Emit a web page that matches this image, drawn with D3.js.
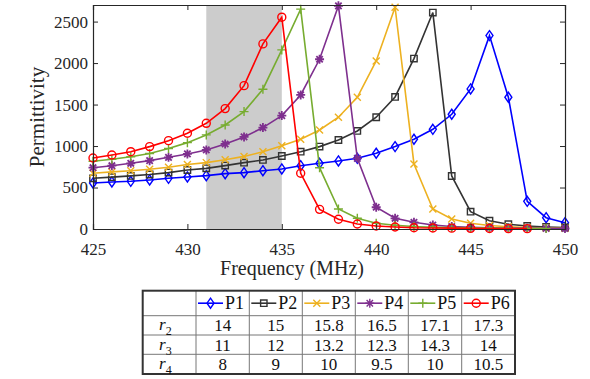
<!DOCTYPE html>
<html><head><meta charset="utf-8">
<script src="https://cdn.jsdelivr.net/npm/d3@7/dist/d3.min.js"></script>
<style>body{margin:0;background:#fff}svg{display:block}text{font-family:"Liberation Serif","Times New Roman",serif}</style>
</head><body>
<svg id="c" width="590" height="379"></svg>
<script>
const freq = d3.range(425, 451);
const seriesNames = ["P1","P2","P3","P4","P5","P6"];
const P1 = [555,567,575,591,611,627,643,667,679,703,724,763,792,820,852,913,993,1082,1202,1383,1688,2331,1588,334,136,76];
const P2 = [611,625,640,657,680,711,731,764,800,832,880,932,993,1073,1182,1347,1592,2054,2609,639,209,100,57,36,25,18];
const P3 = [672,688,703,720,745,778,800,835,875,930,1003,1082,1194,1347,1588,2026,2673,784,241,121,69,42,28,18,12,8];
const P4 = [739,763,792,824,864,905,953,1025,1110,1222,1367,1616,2046,2690,852,262,129,81,48,30,20,15,12,10,8,6];
const P5 = [816,840,870,910,970,1041,1134,1254,1415,1685,2159,2650,739,241,129,69,45,30,22,17,13,10,8,6,5];
const P6 = [856,892,932,993,1065,1154,1274,1451,1728,2231,2553,672,237,117,60,36,24,15,12,10,8,6,5,4];
const seriesValues = [P1,P2,P3,P4,P5,P6];
const shadeBand = [431, 435];
const xTicks = [425,430,435,440,445,450];
const yTicks = [0,500,1000,1500,2000,2500];
const rowLabels = ["2","3","4"];
const r2 = ["14","15","15.8","16.5","17.1","17.3"];
const r3 = ["11","12","13.2","12.3","14.3","14"];
const r4 = ["8","9","10","9.5","10","10.5"];
const tableRows = [r2,r3,r4];

const colors = ["#0000ff","#333333","#EDB120","#7E2F8E","#77AC30","#ff0000"];
const markerKinds = ["diamond","square","times","asterisk","plus","circle"];
function markerPath(k){
  switch(k){
    case "diamond": return "M0,-5L3.5,0L0,5L-3.5,0Z";
    case "square": return "M-3.2,-3.2H3.2V3.2H-3.2Z";
    case "times": return "M-3.5,-3.5L3.5,3.5M-3.5,3.5L3.5,-3.5";
    case "plus": return "M-4.5,0H4.5M0,-4.5V4.5";
    case "asterisk": return "M-4.5,0H4.5M0,-4.5V4.5M-3.2,-3.2L3.2,3.2M-3.2,3.2L3.2,-3.2";
    case "circle": return "M4,0A4,4 0 1,1 -4,0A4,4 0 1,1 4,0Z";
  }
}
const svg = d3.select("#c");
const L=93, R=565, T=5, B=229;
const x = d3.scaleLinear().domain([425,450]).range([L,R]);
const y = d3.scaleLinear().domain([0,2700]).range([B,T]);

svg.append("rect").attr("x",x(shadeBand[0])).attr("y",T).attr("width",x(shadeBand[1])-x(shadeBand[0])).attr("height",B-T).attr("fill","#cccccc");

const line = d3.line().x((d,i)=>x(freq[i])).y(d=>y(d));
seriesValues.forEach((vals,si)=>{
  const g = svg.append("g");
  g.append("path").datum(vals).attr("d",line).attr("fill","none").attr("stroke",colors[si]).attr("stroke-width",1.6);
  g.selectAll("path.m").data(vals).enter().append("path").attr("class","m")
    .attr("transform",(d,i)=>`translate(${x(freq[i])},${y(d)})`)
    .attr("d",markerPath(markerKinds[si]))
    .attr("fill",markerKinds[si]==="asterisk"?colors[si]:"none")
    .attr("stroke",colors[si]).attr("stroke-width",markerKinds[si]==="asterisk"?1.8:1.4);
});

// axes
const ax = svg.append("g");
const xb = ax.append("g").attr("transform",`translate(0,${B})`).call(d3.axisBottom(x).tickValues(xTicks).tickSize(-5).tickPadding(10).tickFormat(d3.format("d")));
const xt = ax.append("g").attr("transform",`translate(0,${T})`).call(d3.axisTop(x).tickValues(xTicks).tickSize(-5).tickFormat(""));
const yl = ax.append("g").attr("transform",`translate(${L},0)`).call(d3.axisLeft(y).tickValues(yTicks).tickSize(-5).tickPadding(5).tickFormat(d3.format("d")));
const yr = ax.append("g").attr("transform",`translate(${R},0)`).call(d3.axisRight(y).tickValues(yTicks).tickSize(-5).tickFormat(""));
ax.selectAll("g").attr("font-family",null);
ax.selectAll(".domain").attr("stroke","#262626").attr("stroke-width",1.2);
ax.selectAll(".tick line").attr("stroke","#262626");
ax.selectAll(".tick text").attr("font-size",17.5).attr("fill","#262626");
yl.selectAll(".tick text").attr("font-size",17);
xb.selectAll(".tick text").attr("font-size",17).attr("dy",15.5);
svg.append("text").attr("x",292).attr("y",275).attr("text-anchor","middle").attr("font-size",20).attr("fill","#262626").text("Frequency (MHz)");
svg.append("text").attr("transform",`translate(44,${(T+B)/2}) rotate(-90)`).attr("text-anchor","middle").attr("font-size",21).attr("fill","#262626").text("Permittivity");

// table
const tL=142.7, tR=515, tT=290.7, rowY=[290.7,315.7,335,354.3,374];
const colX=[142.7,196,249.3,302.3,355.3,408.3,461.7,515];
const tg = svg.append("g");
rowY.slice(1,-1).forEach(v=>tg.append("line").attr("x1",tL).attr("x2",tR).attr("y1",v).attr("y2",v).attr("stroke","#777").attr("stroke-width",1));
colX.slice(1,-1).forEach(v=>tg.append("line").attr("x1",v).attr("x2",v).attr("y1",tT).attr("y2",374).attr("stroke","#777").attr("stroke-width",1));
tg.append("rect").attr("x",tL).attr("y",tT).attr("width",tR-tL).attr("height",374-tT).attr("fill","none").attr("stroke","#333").attr("stroke-width",2);
seriesNames.forEach((n,i)=>{
  const x0=colX[i+1], cy=(rowY[0]+rowY[1])/2;
  tg.append("line").attr("x1",x0+2).attr("x2",x0+27).attr("y1",cy).attr("y2",cy).attr("stroke",colors[i]).attr("stroke-width",1.6);
  tg.append("path").attr("transform",`translate(${x0+14.5},${cy})`).attr("d",markerPath(markerKinds[i]))
    .attr("fill",markerKinds[i]==="asterisk"?colors[i]:"none").attr("stroke",colors[i]).attr("stroke-width",1.4);
  tg.append("text").attr("x",x0+29).attr("y",cy+6).attr("font-size",18).attr("fill","#111").text(n);
});
tableRows.forEach((row,ri)=>{
  const cy=(rowY[ri+1]+rowY[ri+2])/2;
  const lab = tg.append("text").attr("x",(colX[0]+colX[1])/2-4).attr("y",cy+5).attr("text-anchor","middle").attr("font-size",17).attr("fill","#111");
  lab.append("tspan").attr("font-style","italic").text("r");
  lab.append("tspan").attr("font-size",12).attr("dy",5).text(rowLabels[ri]);
  row.forEach((v,ci)=>{
    tg.append("text").attr("x",(colX[ci+1]+colX[ci+2])/2).attr("y",cy+6).attr("text-anchor","middle").attr("font-size",17).attr("fill","#111").text(v);
  });
});
</script>
</body></html>
